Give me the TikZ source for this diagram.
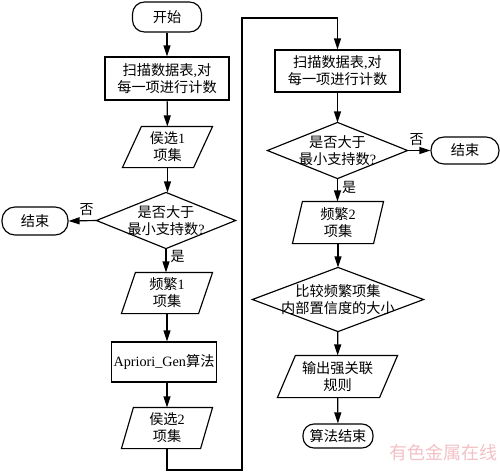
\documentclass[tikz,border=0pt]{standalone}
\usepackage{fontspec}
\setmainfont{Noto Sans CJK SC}
\newfontfamily\latf{Liberation Serif}
\newcommand\lat[1]{{\latf #1}}
\usetikzlibrary{arrows.meta,calc}
\definecolor{wmark}{RGB}{243,192,197}
\begin{document}
\begin{tikzpicture}[x=1pt,y=-1pt,line width=1.15pt,
  base/.style={inner sep=0pt,align=center,font=\fontsize{14.2}{17}\selectfont},
  term/.style={base,draw,rectangle,rounded corners=12pt},
  proc/.style={base,draw,rectangle},
  shp/.style={base,rectangle},
  lbl/.style={inner sep=0pt,font=\fontsize{14}{16}\selectfont},
  arr/.style={-{Triangle[length=11pt,width=7pt]}}]
\useasboundingbox (0,0) rectangle (500,472);

% left column
\node[term,minimum width=69pt,minimum height=30pt] (start) at (167,17) {开始};
\node[proc,minimum width=124pt,minimum height=43pt] (scan1) at (167,78.5) {扫描数据表\lat{,}对\\每一项进行计数};
\node[shp,minimum width=89pt,minimum height=40pt] (cand1) at (167.5,147) {侯选\lat{1}\\项集};
\node[shp,minimum width=138pt,minimum height=55pt] (dec1) at (166,220.5) {是否大于\\最小支持数\lat{?}};
\node[term,minimum width=66pt,minimum height=28pt,rounded corners=13pt] (end1) at (35,221) {结束};
\node[shp,minimum width=90pt,minimum height=40pt] (freq1) at (167,293) {频繁\lat{1}\\项集};
\node[proc,minimum width=105pt,minimum height=40pt] (apr) at (164,362) {\lat{Apriori\_Gen}算法};
\node[shp,minimum width=90pt,minimum height=40pt] (cand2) at (167,428) {侯选\lat{2}\\项集};

% right column
\node[proc,minimum width=125pt,minimum height=42pt] (scan2) at (337.5,71) {扫描数据表\lat{,}对\\每一项进行计数};
\node[shp,minimum width=139pt,minimum height=55pt] (dec2) at (337.5,150.5) {是否大于\\最小支持数\lat{?}};
\node[term,minimum width=68pt,minimum height=27pt,rounded corners=13pt] (end2) at (465,150.5) {结束};
\node[shp,minimum width=90pt,minimum height=41pt] (freq2) at (338,222.5) {频繁\lat{2}\\项集};
\node[shp,minimum width=170pt,minimum height=63pt] (dec3) at (338,299.5) {比较频繁项集\\内部置信度的大小};
\node[shp,minimum width=119pt,minimum height=41pt] (out) at (337.5,376.5) {输出强关联\\规则};
\node[term,minimum width=70pt,minimum height=24pt,rounded corners=11pt] (endalg) at (338,436) {算法结束};

% parallelograms
\foreach \n/\s in {cand1/19,freq1/14,cand2/12,freq2/10,out/18}
  \draw ([xshift=\s pt]\n.north west) -- (\n.north east) -- ([xshift=-\s pt]\n.south east) -- (\n.south west) -- cycle;
% diamonds
\foreach \n in {dec1,dec2,dec3}
  \draw (\n.north) -- (\n.east) -- (\n.south) -- (\n.west) -- cycle;

% connectors
\draw[arr] (start) -- (scan1);
\draw[arr] (scan1) -- (cand1);
\draw[arr] (cand1) -- (dec1.north -| cand1.south);
\draw[arr] (dec1.west) -- (end1.east) node[lbl,pos=0.35,above=4pt] {否};
\draw[arr] (dec1.south) -- (freq1.north -| dec1.south) node[lbl,pos=0.35,right=4pt] {是};
\draw[arr] (freq1) -- (freq1.south |- apr.north);
\draw[arr] (freq1.south |- apr.south) -- (cand2);
\coordinate (lb) at (242,470);
\coordinate (lt) at (242,18);
\draw[arr] (cand2.south) |- (lb) -- (lt) -| (scan2.north);

\draw[arr] (scan2) -- (dec2);
\draw[arr] (dec2.east) -- (end2.west) node[lbl,pos=0.4,above=4pt] {否};
\draw[arr] (dec2.south) -- (freq2.north -| dec2.south) node[lbl,pos=0.4,right=4pt] {是};
\draw[arr] (freq2) -- (dec3);
\draw[arr] (dec3) -- (out);
\draw[arr] (out) -- (endalg);

\node[inner sep=0pt,text=wmark,font=\fontsize{18}{18}\selectfont] (wm) at (443,453) {有色金属在线};
\end{tikzpicture}
\end{document}
